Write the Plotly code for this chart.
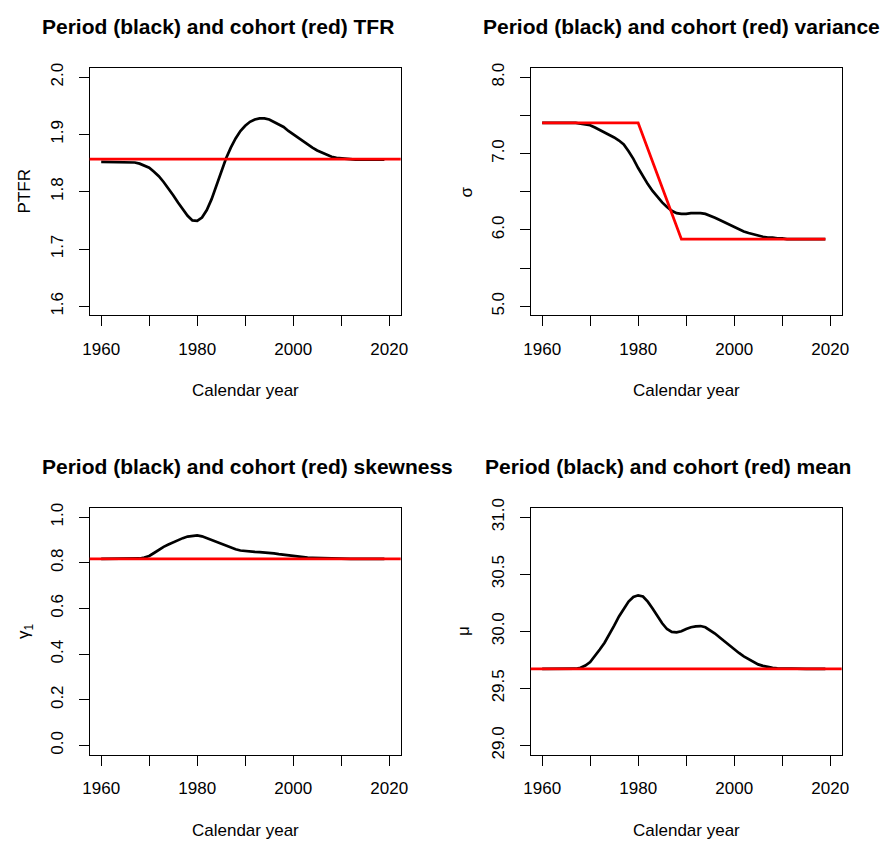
import plotly.graph_objects as go

# Calendar years for the period series
years = list(range(1960, 2020))

# Period TFR (black) and cohort TFR (red)
period_tfr = [
    1.852, 1.852, 1.852, 1.852, 1.852, 1.852, 1.852, 1.851, 1.849, 1.846,
    1.842, 1.835, 1.827, 1.817, 1.806, 1.794, 1.781, 1.769, 1.758, 1.750,
    1.749, 1.755, 1.768, 1.787, 1.810, 1.835, 1.858, 1.877, 1.893, 1.906,
    1.915, 1.922, 1.926, 1.928, 1.928, 1.926, 1.922, 1.918, 1.913, 1.906,
    1.900, 1.894, 1.888, 1.882, 1.877, 1.872, 1.868, 1.864, 1.861, 1.859,
    1.858, 1.857, 1.856, 1.856, 1.856, 1.856, 1.856, 1.856, 1.856, 1.856,
]
cohort_tfr = 1.857

# Period sigma (black) and cohort sigma (red)
period_sigma = [
    7.40, 7.40, 7.40, 7.40, 7.40, 7.40, 7.40, 7.40, 7.39, 7.38,
    7.37, 7.34, 7.31, 7.27, 7.24, 7.21, 7.17, 7.12, 7.03, 6.93,
    6.81, 6.70, 6.60, 6.51, 6.43, 6.36, 6.30, 6.25, 6.22, 6.21,
    6.21, 6.22, 6.22, 6.22, 6.21, 6.19, 6.16, 6.13, 6.10, 6.06,
    6.03, 6.00, 5.98, 5.96, 5.94, 5.93, 5.91, 5.90, 5.90, 5.89,
    5.89, 5.88, 5.88, 5.88, 5.88, 5.88, 5.88, 5.88, 5.88, 5.88,
]
cohort_sigma_years = [1960, 1980, 1989, 2019]
cohort_sigma = [7.40, 7.40, 5.88, 5.88]

# Period skewness (black) and cohort skewness (red)
period_skew = [
    0.817, 0.817, 0.817, 0.817, 0.817, 0.817, 0.817, 0.817, 0.819, 0.823,
    0.830, 0.843, 0.858, 0.870, 0.880, 0.890, 0.899, 0.908, 0.915, 0.919,
    0.920, 0.916, 0.908, 0.899, 0.891, 0.883, 0.874, 0.866, 0.859, 0.854,
    0.851, 0.849, 0.848, 0.847, 0.846, 0.844, 0.841, 0.838, 0.835, 0.832,
    0.829, 0.827, 0.825, 0.823, 0.822, 0.821, 0.820, 0.819, 0.818, 0.817,
    0.817, 0.817, 0.817, 0.817, 0.817, 0.817, 0.817, 0.817, 0.817, 0.817,
]
cohort_skew = 0.817

# Period mean age (black) and cohort mean age (red)
period_mean = [
    29.670, 29.670, 29.670, 29.670, 29.670, 29.670, 29.670, 29.672, 29.680, 29.700,
    29.730, 29.780, 29.840, 29.900, 29.970, 30.050, 30.130, 30.200, 30.260, 30.300,
    30.315, 30.305, 30.260, 30.200, 30.130, 30.070, 30.020, 29.995, 29.990, 30.000,
    30.020, 30.035, 30.043, 30.046, 30.035, 30.010, 29.980, 29.945, 29.910, 29.875,
    29.840, 29.810, 29.780, 29.755, 29.730, 29.710, 29.697, 29.687, 29.680, 29.676,
    29.674, 29.672, 29.670, 29.670, 29.670, 29.670, 29.670, 29.670, 29.670, 29.670,
]
cohort_mean = 29.67

x_labels = [1960, 1980, 2000, 2020]

panels = [
    dict(title="Period (black) and cohort (red) TFR", ylab="PTFR",
         yticks=[1.6, 1.7, 1.8, 1.9, 2.0], yminor=None, yrange=[1.584, 2.016]),
    dict(title="Period (black) and cohort (red) variance", ylab="σ",
         yticks=[5.0, 6.0, 7.0, 8.0], yminor=0.5, yrange=[4.88, 8.12]),
    dict(title="Period (black) and cohort (red) skewness", ylab="γ<sub>1</sub>",
         yticks=[0.0, 0.2, 0.4, 0.6, 0.8, 1.0], yminor=None, yrange=[-0.04, 1.04]),
    dict(title="Period (black) and cohort (red) mean", ylab="μ",
         yticks=[29.0, 29.5, 30.0, 30.5, 31.0], yminor=None, yrange=[28.92, 31.08]),
]

W, H = 892, 846
# panel boxes in pixels: (left, right, top, bottom)
boxes = [(84, 400, 59, 311), (532, 848, 59, 311), (84, 400, 507, 758), (532, 848, 507, 758)]
title_left = [34, 482, 34, 484]
title_y = [17, 17, 465, 465]
ylab_x = [18, 467, 19, 464]
xlab_y = [387, 387, 835, 835]

FONT = "Liberation Sans, Arial, Helvetica, sans-serif"
fig = go.Figure()
layout = dict(width=W, height=H, margin=dict(l=0, r=0, t=0, b=0),
              paper_bgcolor="white", plot_bgcolor="white", showlegend=False,
              font=dict(family=FONT, size=17, color="black"))
annotations = []

period_series = [period_tfr, period_sigma, period_skew, period_mean]
flat_cohort = [cohort_tfr, None, cohort_skew, cohort_mean]

for i, p in enumerate(panels):
    n = "" if i == 0 else str(i + 1)
    xa, ya = "x" + n, "y" + n
    l, r, t, b = boxes[i]
    layout["xaxis" + n] = dict(
        domain=[l / W, r / W], range=[1957.6, 2022.4], anchor=ya,
        tickmode="array", tickvals=x_labels,
        ticks="outside", ticklen=10, tickwidth=1, tickcolor="black",
        minor=dict(tick0=1960, dtick=10, ticks="outside", ticklen=10,
                   tickwidth=1, tickcolor="black", showgrid=False),
        showline=True, mirror=True, linecolor="black", linewidth=1,
        showgrid=False, zeroline=False, ticklabelstandoff=8,
        tickfont=dict(size=17, family=FONT, color="black"))
    yax = dict(
        domain=[1 - b / H, 1 - t / H], range=p["yrange"], anchor=xa,
        tickmode="array", tickvals=p["yticks"],
        ticktext=["%.1f" % v for v in p["yticks"]],
        ticks="outside", ticklen=10, tickwidth=1, tickcolor="black",
        showline=True, mirror=True, linecolor="black", linewidth=1,
        showgrid=False, zeroline=False, tickangle=-90, ticklabelstandoff=9,
        tickfont=dict(size=17, family=FONT, color="black"))
    if p["yminor"]:
        yax["minor"] = dict(tick0=p["yticks"][0], dtick=p["yminor"], ticks="outside",
                            ticklen=10, tickwidth=1, tickcolor="black", showgrid=False)
    layout["yaxis" + n] = yax

    fig.add_trace(go.Scatter(x=years, y=period_series[i], mode="lines",
                             line=dict(color="black", width=2.7),
                             xaxis=xa, yaxis=ya, hoverinfo="skip"))
    if flat_cohort[i] is None:
        fig.add_trace(go.Scatter(x=cohort_sigma_years, y=cohort_sigma, mode="lines",
                                 line=dict(color="#ff0000", width=2.7),
                                 xaxis=xa, yaxis=ya, hoverinfo="skip"))
    else:
        fig.add_shape(type="line", xref=xa + " domain", yref=ya,
                      x0=0, x1=1, y0=flat_cohort[i], y1=flat_cohort[i],
                      line=dict(color="#ff0000", width=2.7))

    annotations.append(dict(text="<b>" + p["title"] + "</b>", xref="paper", yref="paper",
                            x=title_left[i] / W, y=1 - title_y[i] / H,
                            xanchor="left", yanchor="middle", showarrow=False,
                            font=dict(size=21, family=FONT, color="black")))
    annotations.append(dict(text="Calendar year", xref="paper", yref="paper",
                            x=(l + r) / 2 / W, y=1 - xlab_y[i] / H,
                            xanchor="center", yanchor="middle", showarrow=False,
                            font=dict(size=17, family=FONT, color="black")))
    annotations.append(dict(text=p["ylab"], xref="paper", yref="paper",
                            x=ylab_x[i] / W, y=1 - (t + b) / 2 / H, textangle=-90,
                            xanchor="center", yanchor="middle", showarrow=False,
                            font=dict(size=17, family=FONT, color="black")))

layout["annotations"] = annotations
fig.update_layout(**layout)
fig.write_html("out.html")
